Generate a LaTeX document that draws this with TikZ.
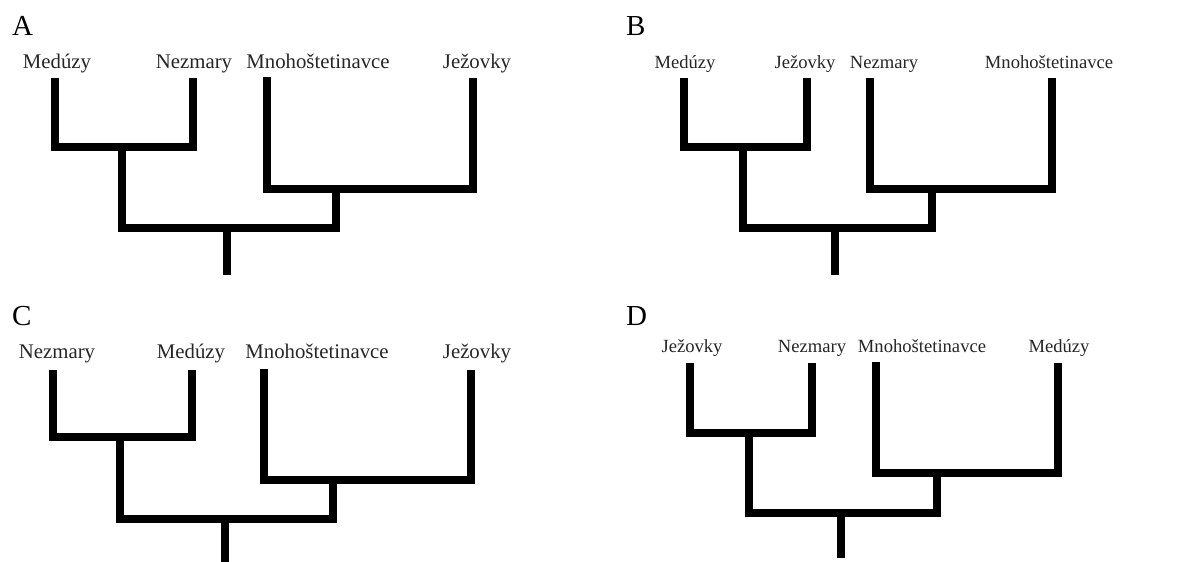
\documentclass[tikz,border=0pt]{standalone}
\usepackage{fontspec}
\setmainfont{Liberation Serif}
\begin{document}
\begin{tikzpicture}[x=1pt,y=-1pt,
  branch/.style={line width=7.5pt,line cap=butt,line join=miter,black},
  taxon/.style={anchor=base,inner sep=0pt,text=black!85,font=\fontsize{20.8}{24}\selectfont},
  smalltaxon/.style={taxon,font=\fontsize{18.6}{22}\selectfont},
  panel/.style={anchor=base west,inner sep=0pt,font=\fontsize{29}{34}\selectfont}]
\useasboundingbox (0,0) rectangle (1192,562);
% ---------- A ----------
\node[panel] (LA) at (12,35) {A};
\node[taxon] (tA1) at (57,68) {Medúzy};
\node[taxon] (tA2) at (194,68) {Nezmary};
\node[taxon] (tA3) at (318,68) {Mnohoštetinavce};
\node[taxon] (tA4) at (477,68) {Ježovky};
\coordinate (A1) at (55,78);
\coordinate (A2) at (193,78);
\coordinate (A3) at (267,77);
\coordinate (A4) at (473,78);
\coordinate (A12) at (122,147);
\coordinate (A34) at (336,189);
\coordinate (Ar) at (227,228);
\coordinate (Ab) at (227,275);
\draw[branch] (A1) |- (A12) -| (A2);
\draw[branch] (A3) |- (A34) -| (A4);
\draw[branch] (A12) |- (Ar) -| (A34);
\draw[branch] (Ar) -- (Ab);
% ---------- B ----------
\node[panel] (LB) at (626,35) {B};
\node[smalltaxon] (tB1) at (685,68) {Medúzy};
\node[smalltaxon] (tB2) at (805,68) {Ježovky};
\node[smalltaxon] (tB3) at (884,68) {Nezmary};
\node[smalltaxon] (tB4) at (1049,68) {Mnohoštetinavce};
\coordinate (B1) at (684,78);
\coordinate (B2) at (807,78);
\coordinate (B3) at (870,78);
\coordinate (B4) at (1052,78);
\coordinate (B12) at (743,147);
\coordinate (B34) at (932,189);
\coordinate (Br) at (835,228);
\coordinate (Bb) at (835,275);
\draw[branch] (B1) |- (B12) -| (B2);
\draw[branch] (B3) |- (B34) -| (B4);
\draw[branch] (B12) |- (Br) -| (B34);
\draw[branch] (Br) -- (Bb);
% ---------- C ----------
\node[panel] (LC) at (12,325) {C};
\node[taxon] (tC1) at (57,358) {Nezmary};
\node[taxon] (tC2) at (191,358) {Medúzy};
\node[taxon] (tC3) at (317,358) {Mnohoštetinavce};
\node[taxon] (tC4) at (477,358) {Ježovky};
\coordinate (C1) at (53,370);
\coordinate (C2) at (192,370);
\coordinate (C3) at (264,369);
\coordinate (C4) at (471,370);
\coordinate (C12) at (120,437);
\coordinate (C34) at (333,480);
\coordinate (Cr) at (225,519);
\coordinate (Cb) at (225,562);
\draw[branch] (C1) |- (C12) -| (C2);
\draw[branch] (C3) |- (C34) -| (C4);
\draw[branch] (C12) |- (Cr) -| (C34);
\draw[branch] (Cr) -- (Cb);
% ---------- D ----------
\node[panel] (LD) at (626,325) {D};
\node[smalltaxon] (tD1) at (692,352) {Ježovky};
\node[smalltaxon] (tD2) at (812,352) {Nezmary};
\node[smalltaxon] (tD3) at (922,352) {Mnohoštetinavce};
\node[smalltaxon] (tD4) at (1059,352) {Medúzy};
\coordinate (D1) at (690,363);
\coordinate (D2) at (812,363);
\coordinate (D3) at (876,362);
\coordinate (D4) at (1058,363);
\coordinate (D12) at (749,433);
\coordinate (D34) at (937,473);
\coordinate (Dr) at (841,513);
\coordinate (Db) at (841,558);
\draw[branch] (D1) |- (D12) -| (D2);
\draw[branch] (D3) |- (D34) -| (D4);
\draw[branch] (D12) |- (Dr) -| (D34);
\draw[branch] (Dr) -- (Db);
\end{tikzpicture}
\end{document}
